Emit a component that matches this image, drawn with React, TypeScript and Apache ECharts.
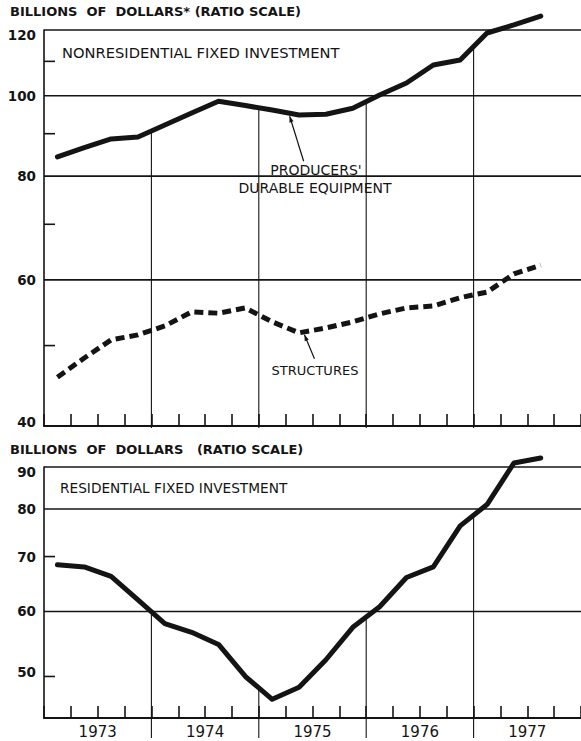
import React, { useEffect, useRef } from "react";
import * as echarts from "echarts";

// Quarterly observations, 1973 Q1 – 1977 Q3 (billions of dollars, ratio scale)
const quarters = [
  "1973 I", "1973 II", "1973 III", "1973 IV",
  "1974 I", "1974 II", "1974 III", "1974 IV",
  "1975 I", "1975 II", "1975 III", "1975 IV",
  "1976 I", "1976 II", "1976 III", "1976 IV",
  "1977 I", "1977 II", "1977 III", "1977 IV",
];
const years = ["1973", "1974", "1975", "1976", "1977"];

const producersDurable = [84.4, 86.6, 88.7, 89.2, 92.2, 95.3, 98.5, 97.3, 96.1, 94.8, 95.0, 96.6, 100.2, 103.6, 108.9, 110.4, 119.0, 121.7, 124.7];
const structures = [45.8, 48.3, 50.8, 51.5, 52.8, 54.9, 54.7, 55.5, 53.4, 51.8, 52.5, 53.4, 54.6, 55.5, 55.8, 57.1, 58.0, 61.0, 62.5];
const residential = [68.4, 68.0, 66.2, 62.0, 58.0, 56.6, 54.7, 50.0, 46.9, 48.5, 52.4, 57.4, 60.8, 66.0, 68.0, 76.3, 81.0, 91.0, 92.3];

const topRange = [40, 120];
const topLabels = [40, 60, 80, 100, 120];
const topGridLines = [60, 80, 100, 120];
const topMinorTicks = [50, 70, 90, 110];

const bottomRange = [44.5, 90];
const bottomLabels = [50, 60, 70, 80, 90];
const bottomGridLines = [60, 80, 90];
const bottomMinorTicks = [50, 70];

const INK = "#141414";
const FONT = '"DejaVu Sans", sans-serif';

const toPts = (arr: number[]) => arr.map((v, i) => [i + 0.5, Math.log(v)]);

function makeDecor(
  refSeries: number[],
  range: number[],
  labels: number[],
  gridLines: number[],
  minor: number[],
  withYears: boolean,
  annotate: (api: any, P: (x: number, v: number) => number[], children: any[]) => void
) {
  return (params: any, api: any) => {
    const n = quarters.length;
    const P = (x: number, v: number) => api.coord([x, Math.log(v)]);
    const children: any[] = [];
    const stroke = (x1: number, y1: number, x2: number, y2: number, w: number) =>
      children.push({ type: "line", shape: { x1, y1, x2, y2 }, style: { stroke: INK, lineWidth: w } });
    for (const g of gridLines) {
      const a = P(0, g), b = P(n, g);
      stroke(a[0], a[1], b[0], b[1], 1.6);
    }
    for (const m of minor) {
      const a = P(0, m);
      stroke(a[0], a[1], a[0] + 11, a[1], 1.6);
    }
    labels.forEach((l, idx) => {
      const a = P(0, l);
      let dy = 0;
      if (idx === 0) dy = -4;
      if (idx === labels.length - 1) dy = 5;
      children.push({
        type: "text",
        x: a[0] - 8,
        y: a[1] + dy,
        style: { text: String(l), align: "right", verticalAlign: "middle", fill: INK, fontSize: 13.5, fontWeight: "bold", fontFamily: FONT },
      });
    });
    // year dividers: from the axis up to the reference curve
    for (let k = 4; k < n; k += 4) {
      const a = P(k - 0.5, refSeries[k - 1]);
      const b = P(k + 0.5, refSeries[k]);
      const bottom = P(k, range[0]);
      const yTop = (a[1] + b[1]) / 2;
      stroke(bottom[0], bottom[1] + (withYears ? 20 : 2), bottom[0], yTop, 1.1);
    }
    if (withYears) {
      years.forEach((y, i) => {
        const c = P(i * 4 + 2, range[0]);
        children.push({
          type: "text",
          x: c[0],
          y: c[1] + 14,
          style: { text: y, align: "center", verticalAlign: "middle", fill: INK, fontSize: 15, fontFamily: FONT },
        });
      });
    }
    annotate(api, P, children);
    return { type: "group", children };
  };
}

function arrow(children: any[], sx: number, sy: number, tx: number, ty: number) {
  children.push({ type: "line", shape: { x1: sx, y1: sy, x2: tx, y2: ty }, style: { stroke: INK, lineWidth: 1.2 } });
  const ang = Math.atan2(ty - sy, tx - sx);
  const L = 6, W = 2.2;
  const bx = tx - L * Math.cos(ang), by = ty - L * Math.sin(ang);
  children.push({
    type: "polygon",
    shape: { points: [[tx, ty], [bx + W * Math.sin(ang), by - W * Math.cos(ang)], [bx - W * Math.sin(ang), by + W * Math.cos(ang)]] },
    style: { fill: INK },
  });
}

export default function App() {
  const ref = useRef<HTMLDivElement>(null);
  useEffect(() => {
    if (!ref.current) return;
    const chart = echarts.init(ref.current, undefined, { renderer: "svg" });
    const n = quarters.length;
    const xAxisBase = {
      type: "value",
      min: 0,
      max: n,
      interval: 1,
      axisLine: { show: true, onZero: false, lineStyle: { color: INK, width: 2 } },
      axisTick: { show: true, inside: true, length: 12, lineStyle: { color: INK, width: 1.6 } },
      axisLabel: { show: false },
      splitLine: { show: false },
    };
    const yAxisBase = {
      type: "value",
      axisLine: { show: true, onZero: false, lineStyle: { color: INK, width: 1.6 } },
      axisTick: { show: false },
      axisLabel: { show: false },
      splitLine: { show: false },
    };
    const lineStyleSolid = { color: INK, width: 5, cap: "round", join: "round" };

    const topAnnot = (api: any, P: any, children: any[]) => {
      const a = P(8.5, producersDurable[8]);
      const b = P(9.5, producersDurable[9]);
      const t = 0.65;
      const tx = a[0] + (b[0] - a[0]) * t, ty = a[1] + (b[1] - a[1]) * t + 3;
      arrow(children, tx + 14, ty + 45, tx, ty);
      const c = P(9.5, structures[9]);
      const d = P(10.5, structures[10]);
      const s = 0.2;
      const ux = c[0] + (d[0] - c[0]) * s, uy = c[1] + (d[1] - c[1]) * s + 3;
      arrow(children, ux + 10, uy + 24, ux, uy);
    };

    chart.setOption({
      animation: false,
      backgroundColor: "#ffffff",
      grid: [
        { left: 44, top: 30, height: 396, right: -9 },
        { left: 44, top: 467, height: 251, right: -9 },
      ],
      xAxis: [
        { ...xAxisBase, gridIndex: 0 },
        { ...xAxisBase, gridIndex: 1 },
      ],
      yAxis: [
        { ...yAxisBase, gridIndex: 0, min: Math.log(topRange[0]), max: Math.log(topRange[1]) },
        { ...yAxisBase, gridIndex: 1, min: Math.log(bottomRange[0]), max: Math.log(bottomRange[1]) },
      ],
      graphic: [
        { type: "text", left: 10, top: 5, style: { text: "BILLIONS  OF  DOLLARS* (RATIO SCALE)", fill: INK, fontSize: 13, fontWeight: "bold", fontFamily: FONT } },
        { type: "text", left: 62, top: 45, style: { text: "NONRESIDENTIAL FIXED INVESTMENT", fill: INK, fontSize: 14.7, fontFamily: FONT } },
        { type: "text", x: 316, y: 170, style: { text: "PRODUCERS'", align: "center", verticalAlign: "middle", fill: INK, fontSize: 14, fontFamily: FONT } },
        { type: "text", x: 315, y: 188, style: { text: "DURABLE EQUIPMENT", align: "center", verticalAlign: "middle", fill: INK, fontSize: 14, fontFamily: FONT } },
        { type: "text", x: 315, y: 370, style: { text: "STRUCTURES", align: "center", verticalAlign: "middle", fill: INK, fontSize: 13, fontFamily: FONT } },
        { type: "text", left: 10, top: 443, style: { text: "BILLIONS  OF  DOLLARS   (RATIO SCALE)", fill: INK, fontSize: 13, fontWeight: "bold", fontFamily: FONT } },
        { type: "text", left: 60, top: 481, style: { text: "RESIDENTIAL FIXED INVESTMENT", fill: INK, fontSize: 13.7, fontFamily: FONT } },
      ],
      series: [
        {
          type: "custom",
          xAxisIndex: 0,
          yAxisIndex: 0,
          clip: false,
          silent: true,
          z: 1,
          data: [[0, 0]],
          renderItem: makeDecor(producersDurable, topRange, topLabels, topGridLines, topMinorTicks, false, topAnnot),
        },
        {
          type: "custom",
          xAxisIndex: 1,
          yAxisIndex: 1,
          clip: false,
          silent: true,
          z: 1,
          data: [[0, 0]],
          renderItem: makeDecor(residential, bottomRange, bottomLabels, bottomGridLines, bottomMinorTicks, true, () => {}),
        },
        {
          name: "Producers' durable equipment",
          type: "line",
          xAxisIndex: 0,
          yAxisIndex: 0,
          data: toPts(producersDurable),
          symbol: "none",
          clip: false,
          z: 5,
          lineStyle: lineStyleSolid,
        },
        {
          name: "Structures",
          type: "line",
          xAxisIndex: 0,
          yAxisIndex: 0,
          data: toPts(structures),
          symbol: "none",
          clip: false,
          z: 5,
          lineStyle: { color: INK, width: 5, type: [9, 5], cap: "butt" },
        },
        {
          name: "Residential fixed investment",
          type: "line",
          xAxisIndex: 1,
          yAxisIndex: 1,
          data: toPts(residential),
          symbol: "none",
          clip: false,
          z: 5,
          lineStyle: lineStyleSolid,
        },
      ],
    } as any);
    return () => chart.dispose();
  }, []);
  return (
    <div
      ref={ref}
      style={{ position: "absolute", left: 0, top: 0, width: 581, height: 741, background: "#fff" }}
    />
  );
}
